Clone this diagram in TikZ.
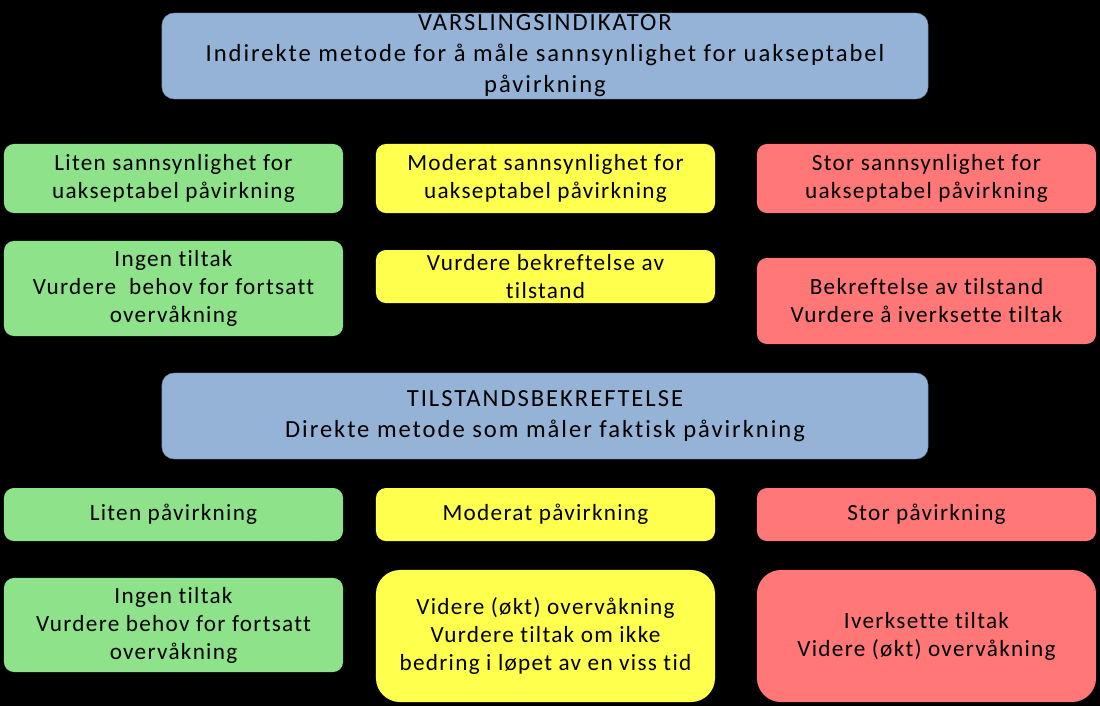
\documentclass[tikz,border=0pt]{standalone}
\usepackage{fontspec}
\setmainfont[LetterSpace=5.5, Ligatures=NoCommon]{Carlito}
\newfontfamily\hodefont[LetterSpace=8, Ligatures=NoCommon]{Carlito}

\definecolor{blaa}{RGB}{149,179,215}
\definecolor{blaakant}{RGB}{90,120,160}
\definecolor{gronn}{RGB}{141,226,138}
\definecolor{gul}{RGB}{255,255,77}
\definecolor{rod}{RGB}{255,119,119}

\begin{document}
\begin{tikzpicture}[x=0.025cm, y=-0.025cm,
    boks/.style={rounded corners=0.25cm, align=center, inner sep=0pt,
        minimum width=8.475cm, text=black,
        font=\fontsize{16.5}{19.9}\selectfont},
    hode/.style={boks, fill=blaa, draw=blaakant, line width=0.3pt,
        minimum width=19.15cm, minimum height=2.15cm, rounded corners=0.3cm,
        font=\hodefont\fontsize{17.5}{22}\selectfont}]

    % Bakgrunn
    \fill[black] (0,0) rectangle (1100,706);

    % Varslingsindikator
    \node[hode] (varsling) at (545,56) {VARSLINGSINDIKATOR\\Indirekte metode for å måle sannsynlighet for uakseptabel\\påvirkning};

    \node[boks, fill=gronn, minimum height=1.725cm] (liten) at (173.5,178.5) {Liten sannsynlighet for\\uakseptabel påvirkning};
    \node[boks, fill=gul, minimum height=1.725cm] (moderat) at (545.5,178.5) {Moderat sannsynlighet for\\uakseptabel påvirkning};
    \node[boks, fill=rod, minimum height=1.725cm] (stor) at (926.5,178.5) {Stor sannsynlighet for\\uakseptabel påvirkning};

    \node[boks, fill=gronn, minimum height=2.375cm] (litentiltak) at (173.5,288.5) {Ingen tiltak\\Vurdere\ \ behov for fortsatt\\overvåkning};
    \node[boks, fill=gul, minimum height=1.325cm] (moderattiltak) at (545.5,276.5) {Vurdere bekreftelse av\\tilstand};
    \node[boks, fill=rod, minimum height=2.15cm] (stortiltak) at (926.5,301) {Bekreftelse av tilstand\\Vurdere å iverksette tiltak};

    % Tilstandsbekreftelse
    \node[hode] (tilstand) at (545,416) {TILSTANDSBEKREFTELSE\\Direkte metode som måler faktisk påvirkning};

    \node[boks, fill=gronn, minimum height=1.325cm] (litenpav) at (173.5,514.5) {Liten påvirkning};
    \node[boks, fill=gul, minimum height=1.325cm] (moderatpav) at (545.5,514.5) {Moderat påvirkning};
    \node[boks, fill=rod, minimum height=1.325cm] (storpav) at (926.5,514.5) {Stor påvirkning};

    \node[boks, fill=gronn, minimum height=2.35cm] (litenrespons) at (173.5,625) {Ingen tiltak\\Vurdere behov for fortsatt\\overvåkning};
    \node[boks, fill=gul, minimum height=3.3cm, rounded corners=0.6cm] (moderatrespons) at (545.5,636) {Videre (økt) overvåkning\\Vurdere tiltak om ikke\\bedring i løpet av en viss tid};
    \node[boks, fill=rod, minimum height=3.3cm, rounded corners=0.6cm] (storrespons) at (926.5,636) {Iverksette tiltak\\Videre (økt) overvåkning};
\end{tikzpicture}
\end{document}
